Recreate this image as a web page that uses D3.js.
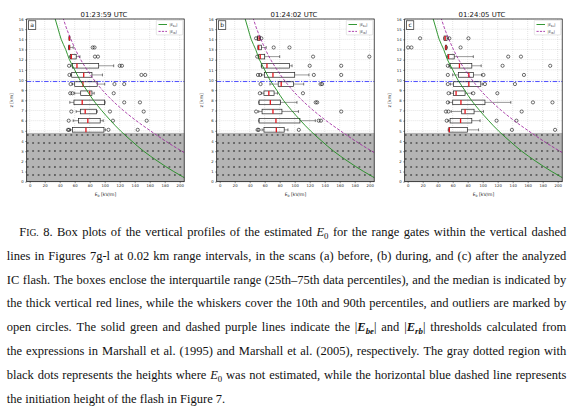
<!DOCTYPE html>
<html>
<head>
<meta charset="utf-8">
<script src="https://cdnjs.cloudflare.com/ajax/libs/d3/7.8.5/d3.min.js"></script>
<style>
html,body{margin:0;padding:0;background:#fff;}
svg{display:block;}
</style>
</head>
<body>
<div id="demo"></div>
<script>

// 高さ (km) : 箱ひげ図の行
var heights = [5.1, 6.0, 6.9, 7.8, 8.7, 9.6, 10.5, 11.4, 12.3, 13.2, 14.1];

// パネルのタイトル・記号
var panelTitles = ['01:23:59 UTC', '01:24:02 UTC', '01:24:05 UTC'];
var panelLetters = ['a', 'b', 'c'];

// 目盛り
var xTicks = [0, 20, 40, 60, 80, 100, 120, 140, 160, 180, 200];
var yTicks = [0, 1, 2, 3, 4, 5, 6, 7, 8, 9, 10, 11, 12, 13, 14, 15, 16];

// [10%, 25%, 中央値, 75%, 90%]  (kV/m)
var boxesA = [
	[54, 57, 75, 99, 101],
	[58, 65, 77.5, 94, 98],
	[62, 67.5, 74, 89, 90],
	[53.5, 59, 70, 100, 100.5],
	[60, 68, 80, 83, 86],
	[57, 60, 71, 90, 100],
	[54.5, 56, 72, 83, 97],
	[55, 57, 63, 92, 112],
	[53, 54.5, 55.5, 62, 67],
	[52, 52, 53, 53.5, 58],
	[52.5, 52.5, 53, 53.5, 53.5]
];
var outliersA = [
	[51, 52.5, 105, 144],
	[52, 111, 156],
	[55.5, 107, 152],
	[126, 147],
	[54, 57, 112],
	[54.5, 113, 126],
	[53, 149, 154],
	[52.5, 120, 123],
	[87, 91],
	[84, 86.5],
	[]
];

var boxesB = [
	[56.5, 59, 75.5, 86, 91],
	[52, 52.5, 75, 107, 127.5],
	[52, 56.5, 71, 83, 105],
	[52, 52.5, 67.5, 81, 103],
	[56, 59, 65.5, 72.5, 77],
	[67, 78, 82, 98.5, 112],
	[56, 59.5, 71, 100, 119],
	[55.5, 56, 63, 93, 96.5],
	[51.5, 52, 54, 60, 80],
	[51, 51, 52, 55.5, 62],
	[50, 50.5, 52.5, 54, 54]
];
var outliersB = [
	[50.5, 52, 105.5],
	[132, 135],
	[48.5, 162],
	[128, 130],
	[53.5, 111],
	[54.5, 134.5, 136.5],
	[51, 54, 125.5, 162],
	[120, 162],
	[50, 124.5, 199.5],
	[72, 93],
	[48.5, 55.5]
];

var boxesC = [
	[54, 55, 55.5, 79.5, 94.5],
	[54, 56.5, 70.5, 85.5, 96.5],
	[58, 72, 76.5, 88.5, 101],
	[55, 60, 71, 103, 137.5],
	[57, 61, 64.5, 76.5, 85],
	[57, 61, 81.5, 97.5, 100],
	[60, 67.5, 81.5, 87.5, 98.5],
	[55, 56.5, 69, 85.5, 98],
	[52, 53.5, 54.5, 62, 87.5],
	[50, 50.5, 51, 52, 53],
	[48, 48.5, 50, 52.5, 54.5]
];
var outliersC = [
	[139, 196.5],
	[52, 118.5, 145],
	[51, 54.3, 152],
	[53.5, 167, 193],
	[54.5, 87.5, 119.5],
	[53.5, 103, 143],
	[53.5, 101, 155],
	[53.5, 126.5, 190],
	[134, 151],
	[0.5, 5, 70.5],
	[16.5, 55.5, 81]
];

// しきい値曲線 (高さ km, 電場 kV/m)
var beHeights = [0, 1, 2, 3, 4, 5, 6, 7, 8, 9, 10, 11, 12, 13, 14, 15, 16];
var beValues = [216, 192, 171, 152, 136, 121, 108, 96, 85, 76, 67, 60, 53, 48, 42, 38, 34];
var rbHeights = [2, 3, 4, 5, 6, 7, 8, 9, 10, 11, 12, 13, 14, 15, 16];
var rbValues = [228, 203, 181, 161, 142, 125, 110, 97, 86, 76.5, 68, 61, 55, 49.5, 45];

var flashHeight = 9.85;   // 放電開始高度
var noDataTop = 4.8;      // 推定なし領域の上端

// キャプション
var captionLines = [
	'{FIG} 8. Box plots of the vertical profiles of the estimated {E0} for the range gates within the vertical dashed',
	'lines in Figures 7g-l at 0.02 km range intervals, in the scans (a) before, (b) during, and (c) after the analyzed',
	'IC flash. The boxes enclose the interquartile range (25th\u201375th data percentiles), and the median is indicated by',
	'the thick vertical red lines, while the whiskers cover the 10th and 90th percentiles, and outliers are marked by',
	'open circles. The solid green and dashed purple lines indicate the {Ebe} and {Erb} thresholds calculated from',
	'the expressions in Marshall et al. (1995) and Marshall et al. (2005), respectively. The gray dotted region with',
	'black dots represents the heights where {E0} was not estimated, while the horizontal blue dashed line represents',
	'the initiation height of the flash in Figure 7.'
];

var panels = [
	{boxes: boxesA, outliers: outliersA},
	{boxes: boxesB, outliers: outliersB},
	{boxes: boxesC, outliers: outliersC}
];

var FONT = 'DejaVu Sans';
var SERIF = '"Liberation Serif", "Times New Roman", serif';

// SVGタグを作成する
var svg = d3.select('#demo').append('svg')
	.attr('width', 578)
	.attr('height', 412);

var defs = svg.append('defs');

// 灰色ドット模様
var pat = defs.append('pattern')
	.attr('id', 'dots')
	.attr('patternUnits', 'userSpaceOnUse')
	.attr('x', 25)
	.attr('y', 131)
	.attr('width', 5.45)
	.attr('height', 8)
;
pat.append('rect')
	.attr('width', 5.45)
	.attr('height', 8)
	.attr('fill', '#b4b4b4');
pat.append('circle')
	.attr('cx', 2.7)
	.attr('cy', 4)
	.attr('r', 0.75)
	.attr('fill', '#000');

var plotL = 26.7, plotR = 184.2, plotT = 19, plotB = 181.7;
var panelX = [0, 190, 378];

defs.append('clipPath').attr('id', 'plotclip')
	.append('rect')
	.attr('x', plotL).attr('y', plotT)
	.attr('width', plotR - plotL).attr('height', plotB - plotT);

var x = d3.scaleLinear().domain([-4, 206]).range([plotL, plotR]);
var y = d3.scaleLinear().domain([0, 16]).range([plotB, plotT]);

var curveLine = d3.line()
	.curve(d3.curveMonotoneY)
	.x(function(d) { return x(d[1]); })
	.y(function(d) { return y(d[0]); });

var beData = beHeights.map(function(h, i) { return [h, beValues[i]]; });
var rbData = rbHeights.map(function(h, i) { return [h, rbValues[i]]; });

panels.forEach(function(p, pi) {
	var g = svg.append('g').attr('transform', 'translate(' + panelX[pi] + ',0)');

	// 背景
	g.append('rect')
		.attr('x', plotL).attr('y', plotT)
		.attr('width', plotR - plotL).attr('height', plotB - plotT)
		.attr('fill', '#fff');

	// グリッド
	g.selectAll('.vgrid').data(xTicks).enter().append('line')
		.attr('x1', function(d) { return x(d); })
		.attr('x2', function(d) { return x(d); })
		.attr('y1', plotT).attr('y2', plotB)
		.attr('stroke', '#c8c8c8').attr('stroke-width', 0.5)
		.attr('stroke-dasharray', '1,1');
	g.selectAll('.hgrid').data(yTicks).enter().append('line')
		.attr('x1', plotL).attr('x2', plotR)
		.attr('y1', function(d) { return y(d); })
		.attr('y2', function(d) { return y(d); })
		.attr('stroke', '#c8c8c8').attr('stroke-width', 0.5)
		.attr('stroke-dasharray', '1,1');

	// 推定なし領域
	g.append('rect')
		.attr('x', plotL).attr('y', y(noDataTop))
		.attr('width', plotR - plotL).attr('height', plotB - y(noDataTop))
		.attr('fill', 'url(#dots)');

	// 放電開始高度
	g.append('line')
		.attr('x1', plotL).attr('x2', plotR)
		.attr('y1', y(flashHeight)).attr('y2', y(flashHeight))
		.attr('stroke', '#3a3aff').attr('stroke-width', 0.9)
		.attr('stroke-dasharray', '4.5,1.5,1.2,1.5');

	// 箱ひげ図
	var bh = 4.6;
	var rows = g.selectAll('.row')
		.data(p.boxes)
		.enter()
		.append('g')
		.attr('transform', function(d, i) { return 'translate(0,' + y(heights[i]) + ')'; });

	rows.append('line')
		.attr('x1', function(d) { return x(d[0]); })
		.attr('x2', function(d) { return x(d[1]); })
		.attr('y1', 0).attr('y2', 0)
		.attr('stroke', '#555').attr('stroke-width', 0.6);
	rows.append('line')
		.attr('x1', function(d) { return x(d[3]); })
		.attr('x2', function(d) { return x(d[4]); })
		.attr('y1', 0).attr('y2', 0)
		.attr('stroke', '#555').attr('stroke-width', 0.6);
	rows.append('line')
		.attr('x1', function(d) { return x(d[0]); })
		.attr('x2', function(d) { return x(d[0]); })
		.attr('y1', -1.4).attr('y2', 1.4)
		.attr('stroke', '#222').attr('stroke-width', 0.6);
	rows.append('line')
		.attr('x1', function(d) { return x(d[4]); })
		.attr('x2', function(d) { return x(d[4]); })
		.attr('y1', -1.4).attr('y2', 1.4)
		.attr('stroke', '#222').attr('stroke-width', 0.6);
	rows.append('rect')
		.attr('x', function(d) { return x(d[1]); })
		.attr('y', -bh / 2)
		.attr('width', function(d) { return Math.max(0, x(d[3]) - x(d[1])); })
		.attr('height', bh)
		.attr('fill', 'none')
		.attr('stroke', '#222').attr('stroke-width', 0.7);
	rows.append('line')
		.attr('x1', function(d) { return x(d[2]); })
		.attr('x2', function(d) { return x(d[2]); })
		.attr('y1', -bh / 2).attr('y2', bh / 2)
		.attr('stroke', '#e8141c').attr('stroke-width', 1.3);

	rows.each(function(d, i) {
		d3.select(this).selectAll('circle')
			.data(p.outliers[i])
			.enter()
			.append('circle')
			.attr('cx', function(v) { return x(v); })
			.attr('cy', 0)
			.attr('r', 1.6)
			.attr('fill', 'none')
			.attr('stroke', '#111').attr('stroke-width', 0.6);
	});

	// しきい値曲線
	var cg = g.append('g').attr('clip-path', 'url(#plotclip)');
	cg.append('path')
		.attr('d', curveLine(beData))
		.attr('fill', 'none')
		.attr('stroke', '#1e8c1e').attr('stroke-width', 0.9);
	cg.append('path')
		.attr('d', curveLine(rbData))
		.attr('fill', 'none')
		.attr('stroke', '#9b1a9b').attr('stroke-width', 0.8)
		.attr('stroke-dasharray', '3,1.6');

	// 枠
	g.append('rect')
		.attr('x', plotL).attr('y', plotT)
		.attr('width', plotR - plotL).attr('height', plotB - plotT)
		.attr('fill', 'none')
		.attr('stroke', '#000').attr('stroke-width', 0.7);

	// 軸
	var xAxis = d3.axisBottom(x).tickValues(xTicks).tickSize(1.5).tickPadding(1.5);
	var gx = g.append('g').attr('transform', 'translate(0,' + plotB + ')').call(xAxis);
	gx.select('.domain').remove();
	gx.selectAll('line').attr('stroke', '#222').attr('stroke-width', 0.5);
	gx.selectAll('text').attr('font-size', 3.8).attr('font-family', FONT).attr('fill', '#222');

	var yAxis = d3.axisLeft(y).tickValues(yTicks).tickSize(1.5).tickPadding(1.5);
	var gy = g.append('g').attr('transform', 'translate(' + plotL + ',0)').call(yAxis);
	gy.select('.domain').remove();
	gy.selectAll('line').attr('stroke', '#222').attr('stroke-width', 0.5);
	gy.selectAll('text').attr('font-size', 3.8).attr('font-family', FONT).attr('fill', '#222');

	// 軸ラベル
	var xl = g.append('text')
		.attr('x', (plotL + plotR) / 2).attr('y', 196)
		.attr('text-anchor', 'middle')
		.attr('font-family', FONT).attr('font-size', 4.5).attr('fill', '#222');
	xl.append('tspan').text('E');
	xl.append('tspan').attr('font-size', 3.2).attr('dy', 1).text('0');
	xl.append('tspan').attr('dy', -1).text(' [kV/m]');

	g.append('text')
		.attr('transform', 'translate(13,' + ((plotT + plotB) / 2) + ') rotate(-90)')
		.attr('text-anchor', 'middle')
		.attr('font-family', FONT).attr('font-size', 4.5).attr('fill', '#222')
		.text('z [km]');

	// タイトル
	g.append('text')
		.attr('x', (plotL + plotR) / 2 - 1.5).attr('y', 16.5)
		.attr('text-anchor', 'middle')
		.attr('font-family', FONT).attr('font-size', 6.9).attr('fill', '#111')
		.text(panelTitles[pi]);

	// パネル記号
	g.append('rect')
		.attr('x', 28.4).attr('y', 20.8).attr('width', 7.4).attr('height', 8.8)
		.attr('fill', '#fff').attr('stroke', '#000').attr('stroke-width', 0.6);
	g.append('text')
		.attr('x', 32.1).attr('y', 27.2)
		.attr('text-anchor', 'middle')
		.attr('font-family', FONT).attr('font-size', 6).attr('fill', '#111')
		.text(panelLetters[pi]);

	// 凡例
	var lg = g.append('g');
	lg.append('rect')
		.attr('x', 156.3).attr('y', 20.3).attr('width', 26.5).attr('height', 14.6)
		.attr('rx', 0.8)
		.attr('fill', '#fff').attr('stroke', '#ccc').attr('stroke-width', 0.5);
	lg.append('line')
		.attr('x1', 158.5).attr('x2', 167).attr('y1', 24.5).attr('y2', 24.5)
		.attr('stroke', '#1e8c1e').attr('stroke-width', 0.9);
	lg.append('line')
		.attr('x1', 158.5).attr('x2', 167).attr('y1', 31.4).attr('y2', 31.4)
		.attr('stroke', '#9b1a9b').attr('stroke-width', 0.8)
		.attr('stroke-dasharray', '2.2,1.2');
	[['be', 24.5], ['rb', 31.4]].forEach(function(l) {
		var t = lg.append('text')
			.attr('x', 169.5).attr('y', l[1] + 1.3)
			.attr('font-family', FONT).attr('font-size', 3.6).attr('fill', '#222');
		t.append('tspan').text('|E');
		t.append('tspan').attr('font-size', 2.6).attr('dy', 0.8).text(l[0]);
		t.append('tspan').attr('dy', -0.8).text('|');
	});
});

// キャプション (両端揃え)
var capSize = 12.5;
var capLeft = 6.8, capRight = 566.3, capTop = 236, capStep = 23.8;

function addWord(sel, word) {
	var parts = word.split(/(\{FIG\}|\{E0\}|\{Ebe\}|\{Erb\})/).filter(function(s) { return s.length; });
	var shift = 0;
	function seg(txt, opt) {
		opt = opt || {};
		var t = sel.append('tspan').text(txt);
		var dy = (opt.sub ? 3 : 0) - shift;
		if (dy) t.attr('dy', dy);
		shift = opt.sub ? 3 : 0;
		if (opt.size) t.attr('font-size', opt.size);
		if (opt.italic) t.attr('font-style', 'italic');
		if (opt.bold) t.attr('font-weight', 'bold');
	}
	parts.forEach(function(s) {
		if (s === '{FIG}') {
			seg('F');
			seg('IG.', {size: 9.6});
		} else if (s === '{E0}') {
			seg('E', {italic: true});
			seg('0', {sub: true, size: 8.8});
		} else if (s === '{Ebe}' || s === '{Erb}') {
			seg('|');
			seg('E', {italic: true, bold: true});
			seg(s === '{Ebe}' ? 'be' : 'rb', {italic: true, bold: true, sub: true, size: 8.8});
			seg('|');
		} else {
			seg(s);
		}
	});
}

var cap = svg.append('g')
	.attr('font-family', SERIF)
	.attr('font-size', capSize)
	.attr('fill', '#111');

captionLines.forEach(function(line, li) {
	var words = line.split(' ').filter(function(w) { return w.length; });
	var yPos = capTop + li * capStep;
	var startX = li === 0 ? 19.3 : capLeft;
	var nodes = words.map(function(w) {
		var t = cap.append('text').attr('y', yPos);
		addWord(t, w);
		return t;
	});
	var widths = nodes.map(function(t) { return t.node().getComputedTextLength(); });
	var total = d3.sum(widths);
	var gap = capSize * 0.25;
	if (li < captionLines.length - 1 && words.length > 1) {
		gap = (capRight - startX - total) / (words.length - 1);
	}
	var cx = startX;
	nodes.forEach(function(t, i) {
		t.attr('x', cx);
		cx += widths[i] + gap;
	});
});

</script>
</body>
</html>
